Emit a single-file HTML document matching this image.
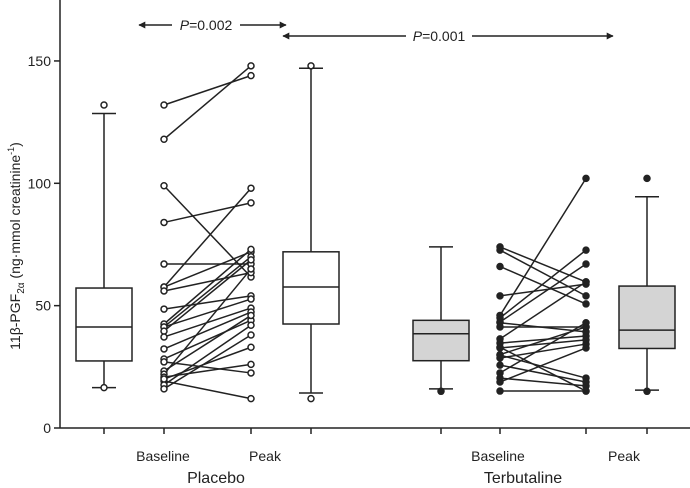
<!DOCTYPE html>
<html><head><meta charset="utf-8">
<style>
html,body{margin:0;padding:0;background:#fff;}
svg{display:block;font-family:"Liberation Sans",Arial,sans-serif;}
</style></head>
<body>
<svg id="chart" width="690" height="488" viewBox="0 0 690 488" xmlns="http://www.w3.org/2000/svg">
<defs>
<marker id="ah" viewBox="0 0 10 10" refX="9" refY="5" markerWidth="9" markerHeight="7" orient="auto-start-reverse" markerUnits="userSpaceOnUse"><path d="M0,0 L10,5 L0,10 z" fill="#222"/></marker>
</defs>
<g id="axes"></g>
<g id="marks"></g>
<text transform="translate(20,246) rotate(-90)" text-anchor="middle" font-size="14" fill="#222">11β-PGF<tspan font-size="10" dy="4">2α</tspan><tspan dy="-4"> (ng·mmol creatinine</tspan><tspan font-size="9" dy="-6">-1</tspan><tspan dy="6">)</tspan></text>
<g>
<line x1="139" y1="25" x2="172" y2="25" stroke="#222" stroke-width="1.5" marker-start="url(#ah)"/>
<line x1="240" y1="25" x2="286" y2="25" stroke="#222" stroke-width="1.5" marker-end="url(#ah)"/>
<text x="206" y="30" text-anchor="middle" font-size="14" fill="#222"><tspan font-style="italic">P</tspan>=0.002</text>
</g>
<g>
<line x1="283" y1="36" x2="406" y2="36" stroke="#222" stroke-width="1.5" marker-start="url(#ah)"/>
<line x1="472" y1="36" x2="613" y2="36" stroke="#222" stroke-width="1.5" marker-end="url(#ah)"/>
<text x="439" y="41" text-anchor="middle" font-size="14" fill="#222"><tspan font-style="italic">P</tspan>=0.001</text>
</g>
</svg>
<script>
const yTicks = [0, 50, 100, 150];
const xCategoryLabels = ["Baseline", "Peak", "Baseline", "Peak"];
const groupLabels = ["Placebo", "Terbutaline"];
// box stats: [lowWhisker, q1, median, q3, highWhisker]
const boxPlaceboBaseline = [16.5, 27.4, 41.3, 57.2, 128.5];
const boxPlaceboPeak = [14.3, 42.5, 57.6, 72, 147];
const boxTerbBaseline = [16, 27.5, 38.5, 44, 74];
const boxTerbPeak = [15.5, 32.5, 40, 58, 94.5];
const outPlaceboBaseline = [16.5, 132];
const outPlaceboPeak = [12, 148];
const outTerbBaseline = [15];
const outTerbPeak = [15, 102];
const placeboBaselineVals = [132,118,99,84,67,57.6,57.6,56,48.6,42.5,41.3,41.3,39.6,37.2,32.3,28.2,27,23.3,22,20.8,19.2,17.6,16,20];
const placeboPeakVals = [144,148,61.7,92,67,98,72,63.5,54,73,70,52.7,68.7,49,47.4,44,22.5,46,65,26,12,42,38,33];
const terbBaselineVals = [74,72.7,66,54,46,45,43.3,41.3,43,36.4,34.7,32.7,29.8,28.6,25.7,22.5,20.4,18.8,15.1,33,30];
const terbPeakVals = [59.7,54,50.7,58.8,102,72.7,67,41.3,39.3,59.7,37.6,36,20.4,34.3,18.8,43,17.2,32.7,15.1,15.1,41.3];

const NS="http://www.w3.org/2000/svg";
const y0=428, pxPerUnit=2.447;
function yScale(v){return y0 - v*pxPerUnit;}
const catX=[104,311,441,647];
const pairX=[164,251,500,586];
function mk(tag,attrs,parent){const e=document.createElementNS(NS,tag);for(const k in attrs)e.setAttribute(k,attrs[k]);parent.appendChild(e);return e;}
const axes=document.getElementById('axes');
const marks=document.getElementById('marks');
const yl=mk('line',{x1:60,y1:0,x2:60,y2:y0,stroke:'#222','stroke-width':1.5},axes);


const xl=mk('line',{x1:60,y1:y0,x2:690,y2:y0,stroke:'#222','stroke-width':1.5},axes);


yTicks.forEach(t=>{
  const y=yScale(t);
  mk('line',{x1:54,y1:y,x2:60,y2:y,stroke:'#222','stroke-width':1.5},axes);
  const tx=mk('text',{x:51,y:y+5,'text-anchor':'end','font-size':14,fill:'#222'},axes);
  tx.textContent=t;
  
  
});
[104,164,251,311,441,500,586,647].forEach(x=>{mk('line',{x1:x,y1:y0,x2:x,y2:y0+6,stroke:'#222','stroke-width':1.5},axes);});
const labX=[163,265,498,624];
xCategoryLabels.forEach((l,i)=>{
  const t=mk('text',{x:labX[i],y:461,'text-anchor':'middle','font-size':14,fill:'#222'},axes);
  t.textContent=l;
  
  
});
[[216,groupLabels[0]],[523,groupLabels[1]]].forEach(([x,l])=>{
  const t=mk('text',{x:x,y:483,'text-anchor':'middle','font-size':16,fill:'#222'},axes);
  t.textContent=l;
  
  
});
function drawBox(cx,s,fill,name){
  const g=mk('g',{},marks);
  
  
  const hw=28, cw=12;
  mk('line',{x1:cx,y1:yScale(s[0]),x2:cx,y2:yScale(s[1]),stroke:'#222','stroke-width':1.5},g);
  mk('line',{x1:cx,y1:yScale(s[3]),x2:cx,y2:yScale(s[4]),stroke:'#222','stroke-width':1.5},g);
  mk('line',{x1:cx-cw,y1:yScale(s[0]),x2:cx+cw,y2:yScale(s[0]),stroke:'#222','stroke-width':1.5},g);
  mk('line',{x1:cx-cw,y1:yScale(s[4]),x2:cx+cw,y2:yScale(s[4]),stroke:'#222','stroke-width':1.5},g);
  mk('rect',{x:cx-hw,y:yScale(s[3]),width:hw*2,height:yScale(s[1])-yScale(s[3]),fill:fill,stroke:'#222','stroke-width':1.5},g);
  mk('line',{x1:cx-hw,y1:yScale(s[2]),x2:cx+hw,y2:yScale(s[2]),stroke:'#222','stroke-width':1.5},g);
}
function drawOut(cx,vals,filled,name){
  vals.forEach(v=>{
    const c=mk('circle',{cx:cx,cy:yScale(v),r:3,fill:filled?'#222':'#fff',stroke:'#222','stroke-width':1.5},marks);
    
    
  });
}
drawBox(catX[0],boxPlaceboBaseline,'#fff','box-placebo-baseline');
drawBox(catX[1],boxPlaceboPeak,'#fff','box-placebo-peak');
drawBox(catX[2],boxTerbBaseline,'#d4d4d4','box-terbutaline-baseline');
drawBox(catX[3],boxTerbPeak,'#d4d4d4','box-terbutaline-peak');
drawOut(catX[0],outPlaceboBaseline,false,'outlier-placebo-baseline');
drawOut(catX[1],outPlaceboPeak,false,'outlier-placebo-peak');
drawOut(catX[2],outTerbBaseline,true,'outlier-terbutaline-baseline');
drawOut(catX[3],outTerbPeak,true,'outlier-terbutaline-peak');
function drawPairs(xa,xb,a,b,filled,name){
  const g=mk('g',{},marks);
  
  
  a.forEach((v,i)=>{mk('line',{x1:xa,y1:yScale(v),x2:xb,y2:yScale(b[i]),stroke:'#222','stroke-width':1.5},g);});
  a.forEach((v,i)=>{
    mk('circle',{cx:xa,cy:yScale(v),r:3,fill:filled?'#222':'#fff',stroke:'#222','stroke-width':1.5},g);
    mk('circle',{cx:xb,cy:yScale(b[i]),r:3,fill:filled?'#222':'#fff',stroke:'#222','stroke-width':1.5},g);
  });
}
drawPairs(pairX[0],pairX[1],placeboBaselineVals,placeboPeakVals,false,'placebo-paired-lines');
drawPairs(pairX[2],pairX[3],terbBaselineVals,terbPeakVals,true,'terbutaline-paired-lines');
</script>
</body></html>
